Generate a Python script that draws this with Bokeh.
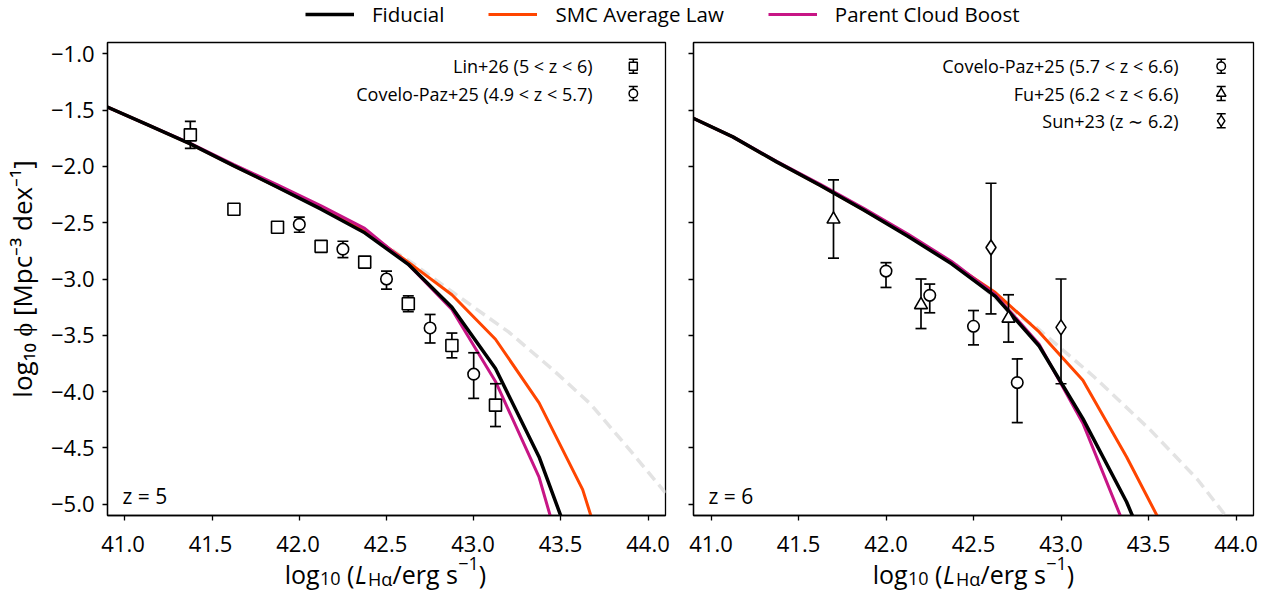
from bokeh.plotting import figure
from bokeh.models import (Label, Legend, LegendItem,
                          FixedTicker, CustomJSTickFormatter, Range1d)
from bokeh.layouts import column, row
from bokeh.embed import file_html
from bokeh.resources import INLINE

FONT = "Open Sans"

# ---------------- data ----------------
x_ticks = [41.0, 41.5, 42.0, 42.5, 43.0, 43.5, 44.0]
y_ticks = [-5.0, -4.5, -4.0, -3.5, -3.0, -2.5, -2.0, -1.5, -1.0]

lum_bins = [40.875, 41.125, 41.375, 41.625, 41.875, 42.125, 42.375,
            42.625, 42.875, 43.125, 43.375, 43.625, 43.875]

# z = 5 model luminosity functions
z5_fiducial = [-1.457, -1.627, -1.80, -1.995, -2.185, -2.38, -2.59,
               -2.87, -3.25, -3.795, -4.58, -5.63]
z5_smc = [-1.457, -1.627, -1.80, -1.995, -2.185, -2.375, -2.575,
          -2.85, -3.14, -3.535, -4.10, -4.87, -6.10]
z5_parent = [-1.457, -1.627, -1.795, -1.985, -2.165, -2.35, -2.55,
             -2.87, -3.27, -3.91, -4.76, -6.10]
z5_fit_x = [42.2, 42.4, 42.65, 42.9, 43.2, 43.45, 43.67, 43.88, 44.1]
z5_fit_y = [-2.43, -2.61, -2.86, -3.14, -3.47, -3.80, -4.11, -4.49, -4.90]

# z = 6 model luminosity functions
z6_fiducial = [-1.555, -1.738, -1.96, -2.17, -2.39, -2.62, -2.865,
               -3.155, -3.595, -4.24, -4.98, -5.90]
z6_smc = [-1.555, -1.738, -1.96, -2.17, -2.39, -2.615, -2.86,
          -3.12, -3.47, -3.90, -4.58, -5.33]
z6_parent = [-1.555, -1.738, -1.955, -2.16, -2.375, -2.60, -2.845,
             -3.14, -3.58, -4.28, -5.24]
z6_fit_x = [42.4, 42.7, 42.86, 43.19, 43.51, 43.78, 43.93, 44.0]
z6_fit_y = [-2.87, -3.27, -3.43, -3.87, -4.34, -4.78, -5.08, -5.22]

# observations, z = 5
lin_x = [41.375, 41.625, 41.875, 42.125, 42.375, 42.625, 42.875, 43.125]
lin_y = [-1.72, -2.38, -2.54, -2.71, -2.85, -3.22, -3.59, -4.12]
lin_err = [0.12, 0.04, 0.02, 0.02, 0.02, 0.07, 0.11, 0.19]

cp5_x = [42.0, 42.25, 42.5, 42.75, 43.0]
cp5_y = [-2.515, -2.735, -3.0, -3.435, -3.845]
cp5_lo = [0.07, 0.075, 0.09, 0.133, 0.215]
cp5_hi = [0.065, 0.07, 0.07, 0.12, 0.19]

# observations, z = 6
cp6_x = [42.0, 42.25, 42.5, 42.75]
cp6_y = [-2.93, -3.145, -3.42, -3.92]
cp6_lo = [0.145, 0.155, 0.165, 0.355]
cp6_hi = [0.075, 0.10, 0.14, 0.21]

fu_x = [41.7, 42.2, 42.7]
fu_y = [-2.47, -3.23, -3.35]
fu_lo = [0.345, 0.21, 0.21]
fu_hi = [0.35, 0.23, 0.21]

sun_x = [42.6, 43.0]
sun_y = [-2.72, -3.43]
sun_lo = [0.59, 0.50]
sun_hi = [0.57, 0.43]

model_names = ["Fiducial", "SMC Average Law", "Parent Cloud Boost"]
model_colors = ["black", "#FF4500", "#C71585"]

# ---------------- layout constants ----------------
XR = (40.9, 44.1)
YR = (-5.1, -0.9)
FW, FH = 560, 473
PX_PER_X = FW / (XR[1] - XR[0])
TOP_H = 28
BORDER_TOP = 14
BORDER_BOTTOM = 6
PANEL_H = BORDER_TOP + FH + BORDER_BOTTOM
BOTTOM_H = 593 - TOP_H - PANEL_H
TICKFMT = "return tick.toFixed(1).replace('-', '\u2212');"


def fx(px):
    return XR[0] + px / FW * (XR[1] - XR[0])


def fy(py_top):
    return YR[1] - py_top / FH * (YR[1] - YR[0])


def add_errbars(p, x, y, lo, hi, cap_px=11, lw=1.7):
    half = cap_px / 2 / PX_PER_X
    lower = [a - b for a, b in zip(y, lo)]
    upper = [a + b for a, b in zip(y, hi)]
    p.segment(x0=x, y0=lower, x1=x, y1=upper, line_color="black", line_width=lw)
    for yy in (lower, upper):
        p.segment(x0=[a - half for a in x], y0=yy, x1=[a + half for a in x], y1=yy,
                  line_color="black", line_width=lw)


def add_series(p, x, y, lo, hi, marker, size):
    add_errbars(p, x, y, lo, hi)
    p.scatter(x, y, marker=marker, size=size,
              fill_color="white", line_color="black", line_width=1.6)


def make_panel(width, border_left, border_right, curves, fit, series,
               legend_rows, ztext, ylabels):
    p = figure(width=width, height=PANEL_H, x_range=Range1d(*XR), y_range=Range1d(*YR),
               toolbar_location=None, output_backend="svg",
               min_border_left=border_left, min_border_right=border_right,
               min_border_top=BORDER_TOP, min_border_bottom=BORDER_BOTTOM)
    p.xgrid.visible = False
    p.ygrid.visible = False
    p.outline_line_color = "black"
    p.outline_line_width = 1.3
    p.outline_line_alpha = 1.0
    p.background_fill_color = "white"
    p.border_fill_color = "white"

    p.xaxis.ticker = FixedTicker(ticks=x_ticks)
    p.yaxis.ticker = FixedTicker(ticks=y_ticks)
    # x tick labels are drawn in the strip below (same x scale)
    p.xaxis.formatter = CustomJSTickFormatter(code="return '';")
    p.xaxis.major_label_text_font_size = "0px"
    p.xaxis.major_label_standoff = 0
    if ylabels:
        p.yaxis.formatter = CustomJSTickFormatter(code=TICKFMT)
        p.yaxis.axis_label = "log\u2081\u2080 \u03d5 [Mpc\u207b\u00b3 dex\u207b\u00b9]"
        p.yaxis.axis_label_text_font = FONT
        p.yaxis.axis_label_text_font_size = "26px"
        p.yaxis.axis_label_text_font_style = "normal"
        p.yaxis.axis_label_text_color = "black"
        p.yaxis.axis_label_standoff = 8
    else:
        p.yaxis.formatter = CustomJSTickFormatter(code="return '';")
    for ax in p.axis:
        ax.axis_line_color = "black"
        ax.axis_line_width = 1.3
        ax.major_tick_out = 5
        ax.major_tick_in = 0
        ax.major_tick_line_width = 1.3
        ax.major_tick_line_color = "black"
        ax.minor_tick_line_color = None
        ax.major_label_text_font = FONT
        ax.major_label_text_color = "black"
    p.yaxis.major_label_text_font_size = "22px"
    p.yaxis.major_label_standoff = 8

    # fit curve (dashed, light gray)
    p.line(fit[0], fit[1], line_color="#e3e3e3", line_width=3.5, line_dash="11 6")
    # model curves: SMC, Parent, Fiducial on top
    for idx, lw in ((1, 3.0), (2, 3.0), (0, 3.5)):
        yv = curves[idx]
        p.line(lum_bins[:len(yv)], yv, line_color=model_colors[idx], line_width=lw)

    for (x, y, lo, hi, marker, size) in series:
        add_series(p, x, y, lo, hi, marker, size)

    # in-panel legend (labels left of handles)
    hx = fx(FW - 32.3)
    dh = 7.0 / FH * (YR[1] - YR[0])
    for i, (text, marker, size) in enumerate(legend_rows):
        top = 23.7 + 27.3 * i
        hy = fy(top)
        add_errbars(p, [hx], [hy], [dh], [dh], cap_px=9, lw=1.6)
        p.scatter([hx], [hy], marker=marker, size=size,
                  fill_color="white", line_color="black", line_width=1.5)
        p.add_layout(Label(x=FW - 75, y=FH - top, x_units="screen", y_units="screen",
                           text=text, text_align="right", text_baseline="middle",
                           text_font=FONT, text_font_size="18px", text_color="black"))

    p.add_layout(Label(x=15, y=20, x_units="screen", y_units="screen", text=ztext,
                       text_align="left", text_baseline="alphabetic",
                       text_font=FONT, text_font_size="21px", text_color="black"))
    return p


def make_xlabel_strip(width, border_left, border_right):
    """Full-width strip under a panel with the same x scale: tick labels + x-axis label."""
    xr = Range1d(XR[0] - border_left / PX_PER_X, XR[1] + border_right / PX_PER_X)
    s = figure(width=width, height=BOTTOM_H, x_range=xr, y_range=Range1d(0, 1),
               toolbar_location=None, output_backend="svg",
               x_axis_location=None, y_axis_location=None,
               min_border_left=0, min_border_right=0, min_border_top=0, min_border_bottom=0)
    s.xgrid.visible = False
    s.ygrid.visible = False
    s.outline_line_color = None
    for t in x_ticks:
        s.add_layout(Label(x=t, y=BOTTOM_H - 22, x_units="data", y_units="screen",
                           text=f"{t:.1f}", text_align="center", text_baseline="alphabetic",
                           text_font=FONT, text_font_size="22px", text_color="black"))
    # log10 (L_Ha / erg s^-1)
    pieces = [("log", 25, "normal", 0, 35.2),
              ("10", 18, "normal", -5, 27.1),
              ("(", 25, "normal", 0, 8.0),
              ("L", 25, "italic", 0, 13.0),
              ("H\u03b1", 18, "normal", -5, 24.5),
              ("/erg s", 25, "normal", 0, 65.7),
              ("\u22121", 18, "normal", 10, 20.6),
              (")", 25, "normal", 0, 7.4)]
    total = sum(pc[4] for pc in pieces)
    xpos = border_left + FW / 2 - total / 2
    base = 20
    for text, fs, style, dy, w in pieces:
        s.add_layout(Label(x=xpos, y=base + dy, x_units="screen", y_units="screen",
                           text=text, text_align="left", text_baseline="alphabetic",
                           text_font=FONT, text_font_size=f"{fs}px",
                           text_font_style=style, text_color="black"))
        xpos += w
    return s


left = make_panel(679, 105, 14,
                  [z5_fiducial, z5_smc, z5_parent], (z5_fit_x, z5_fit_y),
                  [(lin_x, lin_y, lin_err, lin_err, "square", 12),
                   (cp5_x, cp5_y, cp5_lo, cp5_hi, "circle", 11.5)],
                  [("Lin+26 (5 < z < 6)", "square", 8),
                   ("Covelo-Paz+25 (4.9 < z < 5.7)", "circle", 8.5)],
                  "z = 5", True)

right = make_panel(595, 14, 21,
                   [z6_fiducial, z6_smc, z6_parent], (z6_fit_x, z6_fit_y),
                   [(cp6_x, cp6_y, cp6_lo, cp6_hi, "circle", 11.5),
                    (fu_x, fu_y, fu_lo, fu_hi, "triangle", 13),
                    (sun_x, sun_y, sun_lo, sun_hi, "diamond", 15)],
                   [("Covelo-Paz+25 (5.7 < z < 6.6)", "circle", 8.5),
                    ("Fu+25 (6.2 < z < 6.6)", "triangle", 9.5),
                    ("Sun+23 (z \u223c 6.2)", "diamond", 11)],
                   "z = 6", False)

left_strip = make_xlabel_strip(679, 105, 14)
right_strip = make_xlabel_strip(595, 14, 21)

# top legend strip
top = figure(width=1274, height=TOP_H, x_range=Range1d(0, 1), y_range=Range1d(0, 1),
             toolbar_location=None, output_backend="svg",
             x_axis_location=None, y_axis_location=None,
             min_border_left=0, min_border_right=0, min_border_top=0, min_border_bottom=0)
top.xgrid.visible = False
top.ygrid.visible = False
top.outline_line_color = None
items = []
for name, col, lw in zip(model_names, model_colors, (3.5, 3.0, 3.0)):
    r = top.line(x=[-5, -4], y=[-5, -5], line_color=col, line_width=lw)
    items.append(LegendItem(label=name, renderers=[r]))
leg = Legend(items=items, orientation="horizontal", location=(305, 0),
             glyph_width=49, glyph_height=20, label_standoff=18, spacing=44,
             padding=0, margin=0, border_line_color=None, background_fill_alpha=0,
             label_text_font=FONT, label_text_font_size="20.5px", label_text_color="black")
top.add_layout(leg, "center")

layout = column(top, row(left, right, spacing=0), row(left_strip, right_strip, spacing=0),
                spacing=0)

with open("out.html", "w", encoding="utf-8") as f:
    f.write(file_html(layout, INLINE))
